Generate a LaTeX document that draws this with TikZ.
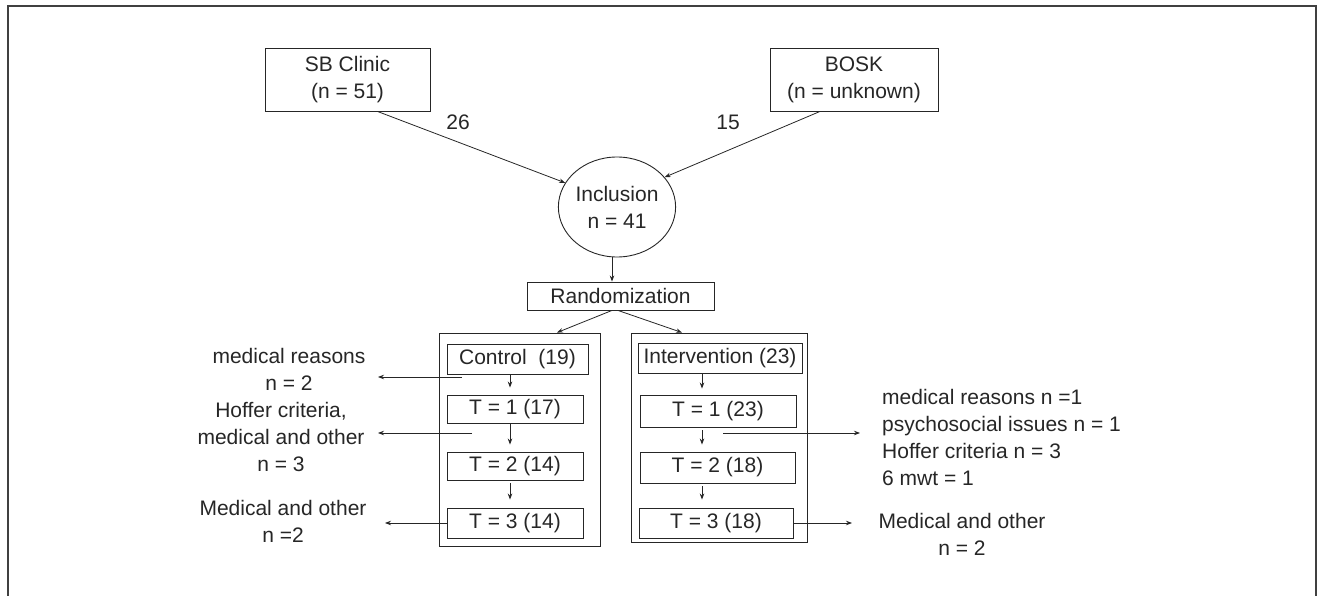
\documentclass[tikz,border=0pt]{standalone}
\usepackage{fontspec}
\setmainfont{Liberation Sans}
\usetikzlibrary{shapes.geometric,arrows.meta}
\begin{document}
\begin{tikzpicture}[x=1pt,y=-1pt,
  every node/.style={font=\fontsize{21}{27}\selectfont, inner sep=0pt, text=black!85},
  box/.style={draw=black!85, line width=0.9pt, rectangle, align=center},
  lbl/.style={align=center},
  arr/.style={draw=black!85, line width=0.8pt, -{Stealth[length=6pt,width=4.5pt]}},
  ln/.style={draw=black!85, line width=0.8pt}]
\useasboundingbox (0,0) rectangle (1318,596);
% frame
\draw[line width=1.3pt, black!75] (8,600) -- (8,6) -- (1316,6) -- (1316,600);

% sources
\node[box, minimum width=165, minimum height=63] (sb) at (347.5,79.5) {SB Clinic\\(n = 51)};
\node[box, minimum width=168, minimum height=63] (bosk) at (854,79.5) {BOSK\\(n = unknown)};
\node[draw=black!85, line width=0.9pt, ellipse, minimum width=112, minimum height=100, align=center] (incl) at (617,207) {Inclusion\\n = 41};
\node (l26) at (458,122) {26};
\node (l15) at (728,122) {15};
\draw[arr] ([xshift=30]sb.south) -- (incl.155);
\draw[arr] ([xshift=-34]bosk.south) -- (incl.32);

% randomization
\node[box, minimum width=187, minimum height=28] (rand) at (620.5,296) {Randomization};
\draw[arr] ([xshift=-5]incl.south) -- ([xshift=-5]incl.south |- rand.north);

% arm frames
\node[box, minimum width=161, minimum height=213] (ctrl) at (519.5,439.5) {};
\node[box, minimum width=176, minimum height=209] (intv) at (719,437.5) {};
\draw[arr] ([xshift=-8.5]rand.south) -- ([xshift=37.5]ctrl.north);
\draw[arr] ([xshift=-2.5]rand.south) -- ([xshift=-37]intv.north);

% control column
\node[box, minimum width=141, minimum height=30] (c0) at (517.5,359) {Control~~(19)};
\node[box, minimum width=136, minimum height=28] (c1) at (515,409) {T = 1 (17)};
\node[box, minimum width=136, minimum height=28] (c2) at (515,466) {T = 2 (14)};
\node[box, minimum width=136, minimum height=30] (c3) at (515,523) {T = 3 (14)};
% intervention column
\node[box, minimum width=164, minimum height=30] (i0) at (720,358) {Intervention (23)};
\node[box, minimum width=156, minimum height=32] (i1) at (718,411) {T = 1 (23)};
\node[box, minimum width=155, minimum height=31] (i2) at (717.5,467.5) {T = 2 (18)};
\node[box, minimum width=154, minimum height=30] (i3) at (716,523) {T = 3 (18)};

\coordinate (xc) at (510,0);
\coordinate (xi) at (702,0);
\draw[arr, shorten >=7pt] (c0.south -| xc) -- (c1.north -| xc);
\draw[arr, shorten >=7pt] (c1.south -| xc) -- (c2.north -| xc);
\draw[arr, shorten >=8pt, shorten <=3pt] (c2.south -| xc) -- (c3.north -| xc);
\draw[arr, shorten >=6pt] (i0.south -| xi) -- (i1.north -| xi);
\draw[arr, shorten >=7pt, shorten <=3pt] (i1.south -| xi) -- (i2.north -| xi);
\draw[arr, shorten >=8pt, shorten <=3pt] (i2.south -| xi) -- (i3.north -| xi);

% left dropout labels
\node[lbl] (d1) at (289,369.5) {medical reasons\\n = 2};
\node[lbl] (d2) at (281,437) {Hoffer criteria,\\medical and other\\n = 3};
\node[lbl] (d3) at (283,521.5) {Medical and other\\n =2};
\coordinate (a1) at (462,377);
\coordinate (a2) at (472,433);
\draw[arr] (a1) -- (378,377);
\draw[arr] (a2) -- (378,433);
\draw[arr] (c3.west) -- (385,523);

% right dropout labels
\node[align=left, anchor=west] (r1) at (882,437) {medical reasons n =1\\psychosocial issues n = 1\\Hoffer criteria n = 3\\6 mwt = 1};
\node[lbl] (r3) at (962,534.5) {Medical and other\\n = 2};
\coordinate (b2) at (723,433);
\draw[arr] (b2) -- (860,433);
\draw[arr] (i3.east) -- (852,523);
\end{tikzpicture}
\end{document}
